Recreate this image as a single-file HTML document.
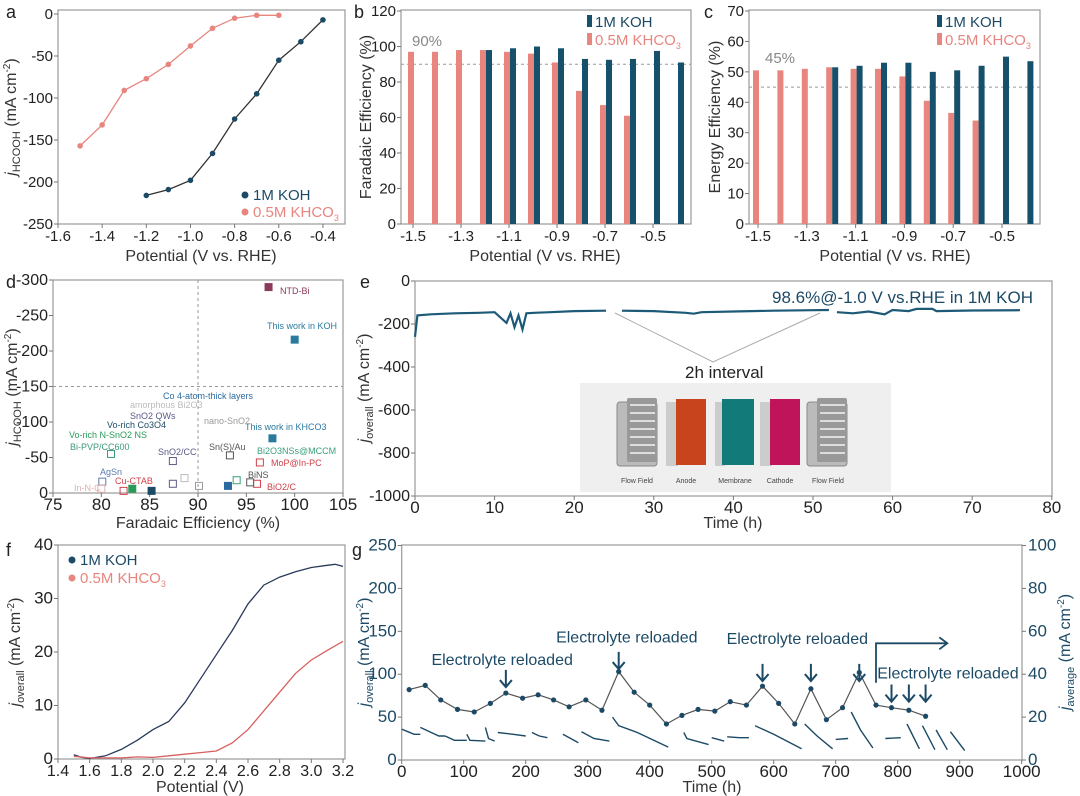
<!DOCTYPE html>
<html><head><meta charset="utf-8">
<style>
html,body{margin:0;padding:0;background:#fff;}
svg{display:block;font-family:"Liberation Sans","Noto Sans CJK SC",sans-serif;}
</style></head>
<body>
<svg id="fig" width="1080" height="796" viewBox="0 0 1080 796" xmlns="http://www.w3.org/2000/svg">
<g font-size="18" fill="#222">
<text x="6" y="18">a</text>
<text x="354" y="18">b</text>
<text x="704" y="18">c</text>
<text x="6" y="288">d</text>
<text x="360" y="288">e</text>
<text x="6" y="556">f</text>
<text x="352" y="556">g</text>
</g>
<g font-size="16" fill="#333">
<text x="201" y="261" text-anchor="middle">Potential (V vs. RHE)</text>
<text transform="translate(16,117) rotate(-90)" text-anchor="middle"><tspan font-style="italic">j</tspan><tspan font-size="11" dy="4">HCOOH</tspan><tspan dy="-4"> (mA cm</tspan><tspan font-size="10" dy="-6">-2</tspan><tspan dy="6">)</tspan></text>
<text x="545" y="261" text-anchor="middle">Potential (V vs. RHE)</text>
<text transform="translate(371,117) rotate(-90)" text-anchor="middle">Faradaic Efficiency (%)</text>
<text x="895" y="261" text-anchor="middle">Potential (V vs. RHE)</text>
<text transform="translate(720,117) rotate(-90)" text-anchor="middle">Energy Efficiency (%)</text>
<text x="198" y="528" text-anchor="middle">Faradaic Efficiency (%)</text>
<text transform="translate(17,387) rotate(-90)" text-anchor="middle"><tspan font-style="italic">j</tspan><tspan font-size="11" dy="4">HCOOH</tspan><tspan dy="-4"> (mA cm</tspan><tspan font-size="10" dy="-6">-2</tspan><tspan dy="6">)</tspan></text>
<text x="733" y="528" text-anchor="middle">Time (h)</text>
<text transform="translate(369,388) rotate(-90)" text-anchor="middle"><tspan font-style="italic">j</tspan><tspan font-size="11" dy="4">overall</tspan><tspan dy="-4"> (mA cm</tspan><tspan font-size="10" dy="-6">-2</tspan><tspan dy="6">)</tspan></text>
<text x="200" y="792" text-anchor="middle">Potential (V)</text>
<text transform="translate(20,652) rotate(-90)" text-anchor="middle"><tspan font-style="italic">j</tspan><tspan font-size="11" dy="4">overall</tspan><tspan dy="-4"> (mA cm</tspan><tspan font-size="10" dy="-6">-2</tspan><tspan dy="6">)</tspan></text>
<text x="712" y="792" text-anchor="middle">Time (h)</text>
<text transform="translate(369,652) rotate(-90)" text-anchor="middle" fill="#1c4a66"><tspan font-style="italic">j</tspan><tspan font-size="11" dy="4">overall</tspan><tspan dy="-4"> (mA cm</tspan><tspan font-size="10" dy="-6">-2</tspan><tspan dy="6">)</tspan></text>
<text transform="translate(1070,652) rotate(-90)" text-anchor="middle" fill="#1c4a66"><tspan font-style="italic">j</tspan><tspan font-size="11" dy="4">average</tspan><tspan dy="-4"> (mA cm</tspan><tspan font-size="10" dy="-6">-2</tspan><tspan dy="6">)</tspan></text>
</g>
<g font-size="15">
<circle cx="245" cy="195" r="3.5" fill="#1c4a66"/>
<text x="253" y="200" fill="#1c4a66">1M KOH</text>
<circle cx="245" cy="212" r="3.5" fill="#e8857f"/>
<text x="253" y="217" fill="#e8857f">0.5M KHCO<tspan font-size="9" dy="4">3</tspan></text>
<rect x="587" y="15" width="5" height="12" fill="#17506b"/>
<text x="595" y="27" fill="#1c4a66">1M KOH</text>
<rect x="587" y="33" width="5" height="12" fill="#e8857f"/>
<text x="595" y="45" fill="#e8857f">0.5M KHCO<tspan font-size="9" dy="4">3</tspan></text>
<text x="412" y="46" fill="#888">90%</text>
<rect x="937" y="15" width="5" height="12" fill="#17506b"/>
<text x="945" y="27" fill="#1c4a66">1M KOH</text>
<rect x="937" y="33" width="5" height="12" fill="#e8857f"/>
<text x="945" y="45" fill="#e8857f">0.5M KHCO<tspan font-size="9" dy="4">3</tspan></text>
<text x="765" y="63" fill="#888">45%</text>
<circle cx="72" cy="560" r="3.5" fill="#1c4a66"/>
<text x="80" y="565" fill="#1c4a66">1M KOH</text>
<circle cx="72" cy="578" r="3.5" fill="#e8857f"/>
<text x="80" y="583" fill="#e8857f">0.5M KHCO<tspan font-size="9" dy="4">3</tspan></text>
</g>
<g>
<rect x="580" y="383" width="311" height="109" fill="#efefef"/>
<g>
<rect x="617" y="402" width="40" height="64" rx="3" fill="#bbb" stroke="#888"/>
<rect x="627" y="398" width="30" height="64" rx="2" fill="#999"/>
<g stroke="#ddd" stroke-width="2"><line x1="630" y1="405" x2="655" y2="405"/><line x1="630" y1="413" x2="655" y2="413"/><line x1="630" y1="421" x2="655" y2="421"/><line x1="630" y1="429" x2="655" y2="429"/><line x1="630" y1="437" x2="655" y2="437"/><line x1="630" y1="445" x2="655" y2="445"/><line x1="630" y1="453" x2="655" y2="453"/></g>
</g>
<g><rect x="666" y="402" width="12" height="64" fill="#ccc"/><rect x="676" y="399" width="30" height="66" fill="#c8441c"/></g>
<g><rect x="715" y="402" width="10" height="64" fill="#ccc"/><rect x="722" y="399" width="32" height="66" fill="#137a7a"/></g>
<g><rect x="760" y="402" width="12" height="64" fill="#ccc"/><rect x="770" y="399" width="30" height="66" fill="#c0145a"/></g>
<g>
<rect x="807" y="402" width="40" height="64" rx="3" fill="#bbb" stroke="#888"/>
<rect x="817" y="398" width="30" height="64" rx="2" fill="#999"/>
<g stroke="#ddd" stroke-width="2"><line x1="820" y1="405" x2="845" y2="405"/><line x1="820" y1="413" x2="845" y2="413"/><line x1="820" y1="421" x2="845" y2="421"/><line x1="820" y1="429" x2="845" y2="429"/><line x1="820" y1="437" x2="845" y2="437"/><line x1="820" y1="445" x2="845" y2="445"/><line x1="820" y1="453" x2="845" y2="453"/></g>
</g>
<g font-size="7" fill="#444" text-anchor="middle">
<text x="637" y="483">Flow Field</text>
<text x="686" y="483">Anode</text>
<text x="735" y="483">Membrane</text>
<text x="780" y="483">Cathode</text>
<text x="828" y="483">Flow Field</text>
</g>
</g>
<text x="772" y="303" font-size="17" fill="#1c4a66">98.6%@-1.0 V vs.RHE in 1M KOH</text>
<text x="685" y="378" font-size="17" fill="#222">2h interval</text>
<polyline points="615,313 713,362 820,313" fill="none" stroke="#aaa" stroke-width="1"/>
<g id="plots"></g>
</svg>
<script>
// ---------- DATA ----------
const aVKoh=[-1.2,-1.1,-1.0,-0.9,-0.8,-0.7,-0.6,-0.5,-0.4];
const aJKoh=[-216,-209,-198,-166,-125,-95,-55,-33,-7];
const aVKhco3=[-1.5,-1.4,-1.3,-1.2,-1.1,-1.0,-0.9,-0.8,-0.7,-0.6];
const aJKhco3=[-157,-132,-91,-77,-60,-38,-17,-5,-1.5,-1.5];
const aXTicks=[-1.6,-1.4,-1.2,-1.0,-0.8,-0.6,-0.4];
const aYTicks=[0,-50,-100,-150,-200,-250];

const bcV=[-1.5,-1.3,-1.1,-0.9,-0.7,-0.5];
const bVKhco3=[-1.5,-1.4,-1.3,-1.2,-1.1,-1.0,-0.9,-0.8,-0.7,-0.6];
const bFeKhco3=[97,97,98,98,97,96,91,75,67,61];
const bVKoh=[-1.2,-1.1,-1.0,-0.9,-0.8,-0.7,-0.6,-0.5,-0.4];
const bFeKoh=[98,99,100,99,93,92.5,93,97.5,91];
const bYTicks=[0,20,40,60,80,100,120];
const cEeKhco3=[50.5,50.5,51,51.5,51,51,48.5,40.5,36.5,34];
const cEeKoh=[51.5,52,53,53,50,50.5,52,55,53.5];
const cYTicks=[0,10,20,30,40,50,60,70];

const dXTicks=[75,80,85,90,95,100,105];
const dYTicks=[0,-50,-100,-150,-200,-250,-300];
const dNames=["NTD-Bi","This work in KOH","This work in KHCO3","Sn(S)/Au","MoP@In-PC","BiNS","BiO2/C","Bi2O3NSs@MCCM","nano-SnO2","Co 4-atom-thick layers","amorphous Bi2O3","SnO2/CC","SnO2 QWs","Vo-rich Co3O4","Vo-rich N-SnO2 NS","Cu-CTAB","AgSn","In-N-C","Bi-PVP/CC600"];
const dFe=[97.3,100,97.7,93.3,96.4,95.4,96.1,94,90.1,93.1,88.6,87.4,87.4,85.2,83.2,82.3,80.1,80,81];
const dJ=[-290,-216,-77,-53,-43,-15,-13,-18,-10,-10,-21,-45,-13,-3,-6,-3,-16,-6,-55];

const eT1=[0,0.3,2,5,8,10,11.5,12,12.5,13,13.5,14,15,17,20,24];
const eJ1=[-260,-160,-155,-150,-148,-145,-195,-150,-215,-160,-225,-150,-148,-145,-140,-138];
const eT2=[26,30,34,35,36,40,45,50,52];
const eJ2=[-138,-140,-148,-152,-145,-142,-138,-136,-135];
const eT3=[53,55,57,59,60,62,63,65,65.5,70,76];
const eJ3=[-145,-150,-142,-155,-135,-140,-130,-130,-140,-137,-136];
const eXTicks=[0,10,20,30,40,50,60,70,80];
const eYTicks=[0,-200,-400,-600,-800,-1000];

const fVKoh=[1.5,1.55,1.6,1.7,1.8,1.9,2.0,2.1,2.2,2.3,2.4,2.5,2.6,2.7,2.8,2.9,3.0,3.1,3.15,3.2];
const fJKoh=[0.8,0.3,0.1,0.6,1.8,3.5,5.5,7,10.5,15,19.5,24,29,32.5,34,35,35.8,36.2,36.4,36];
const fVKhco3=[1.5,1.6,1.8,1.9,2.0,2.1,2.2,2.3,2.4,2.5,2.6,2.7,2.8,2.9,3.0,3.1,3.2];
const fJKhco3=[0.5,0.2,0.2,0.4,0.3,0.6,0.9,1.2,1.5,3,5.5,9,12.5,16,18.5,20.3,22];
const fXTicks=[1.4,1.6,1.8,2.0,2.2,2.4,2.6,2.8,3.0,3.2];
const fYTicks=[0,10,20,30,40];

const gT=[12,38,63,90,117,143,168,195,220,245,270,297,323,350,375,400,427,452,478,505,530,556,582,608,634,660,685,711,738,765,790,818,845];
const gJ=[82,87,70,59,56,66,78,72,76,70,62,70,58,103,79,64,42,52,59,57,68,64,86,66,42,83,47,61,102,64,61,58,51];
const gTraceT=[[0,10,20,30],[30,45,60,70],[70,85,105],[105,110,135],[135,140,150],[155,180,200],[210,222,235],[260,285],[290,310,335],[340,350,380,430],[455,460,495],[500,520],[525,545,560],[570,600,645],[650,670,695],[700,720],[725,740,760],[780,805],[815,835],[840,860],[862,880],[885,908]];
const gTraceJ=[[36,33,30,30],[38,33,28,28],[28,23,23],[30,23,22],[38,25,22],[32,30,28],[32,28,26],[30,20],[33,25,22],[50,40,32,15],[32,25,18],[26,22],[27,26,26],[40,30,13],[42,28,13],[24,25],[56,35,14],[25,26],[42,13],[40,12],[35,12],[33,11]];
const gArrowT=[168,350,582,660,738,790,818,845];
const gArrowTop=[105,126,112,112,112,88,88,88];
const gXTicks=[0,100,200,300,400,500,600,700,800,900,1000];
const gYTicks=[0,50,100,150,200,250];
const gY2Ticks=[0,20,40,60,80,100];

// ---------- helpers ----------
const NS="http://www.w3.org/2000/svg";
const root=document.getElementById('plots');
function mk(tag,attrs,parent){const e=document.createElementNS(NS,tag);for(const k in attrs)e.setAttribute(k,attrs[k]);(parent||root).appendChild(e);return e;}
function grp(){return mk('g',{});}
function path(xs,ys,fx,fy){return xs.map((x,i)=>(i?'L':'M')+fx(x).toFixed(1)+','+fy(ys[i]).toFixed(1)).join('');}
function fmt(v){return (Math.round(v*10)/10).toFixed(Number.isInteger(v)?0:1);}
const f1=v=>v.toFixed(1);

function frame(x0,y0,x1,y1,name){
  const r=mk('rect',{x:x0,y:y0,width:x1-x0,height:y1-y0,fill:'none',stroke:'#999','stroke-width':1.2});
  
  
}
function xTicks(ticks,fx,y,name,fs,labFn){
  const g=grp();
  
  
  ticks.forEach(t=>{
    const x=fx(t);
    mk('line',{x1:x,y1:y,x2:x,y2:y+4,stroke:'#777'},g);
    const tx=mk('text',{x:x,y:y+17,'font-size':fs||15,'text-anchor':'middle',fill:'#222'},g);
    tx.textContent=labFn?labFn(t):fmt(t);
    
    
  });
}
function yTicks(ticks,fy,x,name,fs,right,col){
  const g=grp();
  
  
  ticks.forEach(t=>{
    const y=fy(t);
    mk('line',{x1:x,y1:y,x2:right?x+4:x-4,y2:y,stroke:'#777'},g);
    const tx=mk('text',{x:right?x+6:x-5,y:y+5,'font-size':fs||15,'text-anchor':right?'start':'end',fill:col||'#222'},g);
    tx.textContent=fmt(t);
    
    
  });
}

// ---------- panel a ----------
const ax=v=>58+(v+1.6)/1.3*287, ay=j=>14+(-j)/250*210;
frame(58,10,345,224,'a-plot-frame');
xTicks(aXTicks,ax,224,'a-x-axis',15,f1);
yTicks(aYTicks,ay,58,'a-y-axis',15);
[[aVKhco3,aJKhco3,'#e8857f','a-series-khco3'],[aVKoh,aJKoh,'#1c4a66','a-series-koh']].forEach(([xs,ys,c,n])=>{
  const g=grp();
  
  
  mk('path',{d:path(xs,ys,ax,ay),fill:'none',stroke:c==='#1c4a66'?'#333':c,'stroke-width':1.3},g);
  xs.forEach((x,i)=>{
    const p=mk('circle',{cx:ax(x),cy:ay(ys[i]),r:2.8,fill:c},g);
    
    
  });
});

// ---------- panels b, c ----------
function barPanel(fx,fy,x0,x1,yt,vK,vH,valsK,valsH,ref,pre){
  frame(x0,10,x1,224,pre+'-plot-frame');
  xTicks(bcV,fx,224,pre+'-x-axis',15);
  yTicks(yt,fy,x0,pre+'-y-axis',15);
  const l=mk('line',{x1:x0,x2:x1,y1:fy(ref),y2:fy(ref),stroke:'#999','stroke-dasharray':'3,3'});
  
  
  const g=grp();
  
  
  vH.forEach((v,i)=>{
    const r=mk('rect',{x:fx(v)-5,y:fy(valsH[i]),width:6,height:fy(0)-fy(valsH[i]),fill:'#e8857f'},g);
    
    
  });
  vK.forEach((v,i)=>{
    const r=mk('rect',{x:fx(v)+1,y:fy(valsK[i]),width:6,height:fy(0)-fy(valsK[i]),fill:'#17506b'},g);
    
    
  });
}
const bx=v=>413+(v+1.5)*240, by=p=>224-p*213/120;
barPanel(bx,by,401,691,bYTicks,bVKoh,bVKhco3,bFeKoh,bFeKhco3,90,'b');
const cx=v=>758+(v+1.5)*244, cy=p=>224-p*213/70;
barPanel(cx,cy,749,1040,cYTicks,bVKoh,bVKhco3,cEeKoh,cEeKhco3,45,'c');

// ---------- panel d ----------
const dx=f=>53+(f-75)*290/30, dy=j=>493+j*213/300;
frame(53,280,343,493,'d-plot-frame');
xTicks(dXTicks,dx,493,'d-x-axis',17);
yTicks(dYTicks,dy,53,'d-y-axis',16);
let dl=mk('line',{x1:dx(90),x2:dx(90),y1:280,y2:493,stroke:'#999','stroke-dasharray':'3,3'});


dl=mk('line',{x1:53,x2:343,y1:dy(-150),y2:dy(-150),stroke:'#999','stroke-dasharray':'3,3'});


const dCol=["#8a3a5a","#2a7aa0","#2a7aa0","#555","#d0404a","#555","#d0404a","#3aa07a","#999","#2a6aa0","#bbb","#5a5a8a","#5a5a8a","#1c4a66","#2a9a5a","#d0404a","#5a7ab0","#e0b0b0","#3a9a7a"];
const dLab=[[280,294],[267,329],[245,430],[209,450],[271,466],[248,478],[267,490],[257,454],[204,424],[163,399],[130,408],[158,455],[130,419],[107,428],[69,438],[115,484],[100,475],[74,491],[70,450]];
const dMarks=grp();


dFe.forEach((f,i)=>{
  const m=mk('rect',{x:dx(f)-3.5,y:dy(dJ[i])-3.5,width:7,height:7,fill:(i<3||i===9||i===13||i===14)?dCol[i]:'none',stroke:dCol[i]},dMarks);
  
  
  const t=mk('text',{x:dLab[i][0],y:dLab[i][1],'font-size':9,fill:dCol[i]},dMarks);
  t.textContent=dNames[i];
  
  
});

// ---------- panel e ----------
const ex=t=>415+t*7.96, ey=j=>281+(-j)*0.215;
frame(415,281,1052,496,'e-plot-frame');
xTicks(eXTicks,ex,496,'e-x-axis',17);
yTicks(eYTicks,ey,415,'e-y-axis',16);
[[eT1,eJ1],[eT2,eJ2],[eT3,eJ3]].forEach(([ts,js])=>{
  const p=mk('path',{d:path(ts,js,ex,ey),fill:'none',stroke:'#1d5a78','stroke-width':2.2});
  
  
});

// ---------- panel f ----------
const fx=v=>58+(v-1.4)/1.8*285, fy=j=>759-j*5.35;
frame(58,545,345,759,'f-plot-frame');
xTicks(fXTicks,fx,759,'f-x-axis',16,f1);
yTicks(fYTicks,fy,58,'f-y-axis',17);
let fp=mk('path',{d:path(fVKoh,fJKoh,fx,fy),fill:'none',stroke:'#2a3a5a','stroke-width':1.3});


fp=mk('path',{d:path(fVKhco3,fJKhco3,fx,fy),fill:'none',stroke:'#d86060','stroke-width':1.3});



// ---------- panel g ----------
const gx=t=>401.7+t*0.62, gy=j=>760-j*0.858, gy2=r=>gy(r*2.5);
frame(401.7,545,1022,760,'g-plot-frame');
xTicks(gXTicks,gx,760,'g-x-axis',17);
yTicks(gYTicks,gy,401.7,'g-y-axis',17,false,'#1c4a66');
yTicks(gY2Ticks,gy2,1022,'g-y2-axis',17,true,'#1c4a66');
gTraceT.forEach((ts,i)=>{
  const p=mk('path',{d:path(ts,gTraceJ[i],gx,gy),fill:'none',stroke:'#1c4a66','stroke-width':1.4});
  
  
});
const gl=mk('path',{d:path(gT,gJ,gx,gy),fill:'none',stroke:'#555','stroke-width':1.2});


gT.forEach((t,i)=>{
  const c=mk('circle',{cx:gx(t),cy:gy(gJ[i]),r:2.6,fill:'#1c4a66'});
  
  
});
gArrowT.forEach((t,i)=>{
  const x=gx(t), y0=gy(gArrowTop[i]), y1=gy(gArrowTop[i]-20);
  const a=mk('path',{d:`M${x},${y0}L${x},${y1}M${x-6},${y1-7}L${x},${y1}L${x+6},${y1-7}`,fill:'none',stroke:'#1c4a66','stroke-width':2});
  
  
});
const gText=[[48,118],[249,144],[524,142],[767,102]];
gText.forEach(([t,v])=>{
  const tx=mk('text',{x:gx(t),y:gy(v)+6,'font-size':16,fill:'#1c4a66'});
  tx.textContent='Electrolyte reloaded';
  
  
});
const br=mk('path',{d:`M${gx(765)},${gy(90)}L${gx(765)},${gy(136)}L${gx(880)},${gy(136)}M${gx(880)-8},${gy(136)-6}L${gx(880)},${gy(136)}L${gx(880)-8},${gy(136)+6}`,fill:'none',stroke:'#1c4a66','stroke-width':1.8});


</script>
</body></html>
